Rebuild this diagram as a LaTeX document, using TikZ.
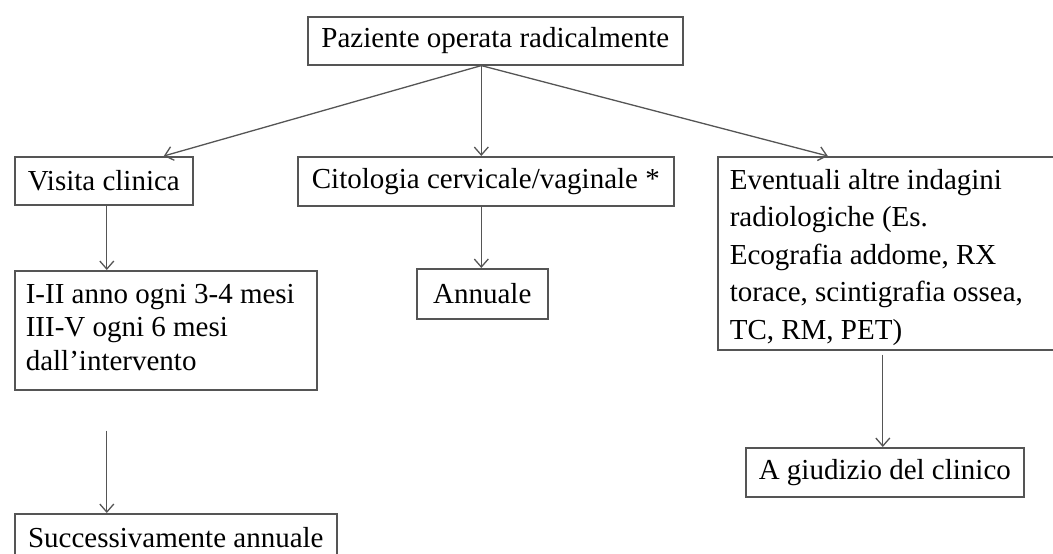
\documentclass[tikz,border=0pt]{standalone}
\usepackage{fontspec}
\setmainfont{Liberation Serif}
\usetikzlibrary{positioning,arrows.meta,calc}
\definecolor{linegray}{RGB}{85,85,85}

\begin{document}
\begin{tikzpicture}[x=1pt,y=-1pt,
    box/.style={draw=linegray,line width=1.6pt,rectangle,anchor=north west,inner xsep=12pt,inner ysep=0pt,align=flush left,font=\fontsize{29}{37.5}\selectfont},
    arr/.style={draw=linegray,line width=1.3pt,-{Straight Barb[length=8pt,width=14pt]}}]
    \useasboundingbox (0,0) rectangle (1053,554);
    \clip (0,0) rectangle (1053,554);

    % Root
    \node[box,minimum width=375pt,minimum height=48pt] (root) at (307,16) {Paziente operata radicalmente};

    % Second row
    \node[box,minimum width=178pt,minimum height=48pt] (visita) at (14,156) {Visita clinica};
    \node[box,minimum width=376pt,minimum height=49pt] (cito) at (297,156) {Citologia cervicale/vaginale *};
    \node[box,minimum width=340pt,minimum height=193pt,text width=316pt] (event) at (717,156) {%
        \rule{0pt}{28pt}Eventuali altre indagini\\
        radiologiche (Es.\\
        Ecografia addome, RX\\
        torace, scintigrafia ossea,\\
        TC, RM, PET)};

    % Third row
    \node[box,minimum width=302pt,minimum height=119pt,inner xsep=11pt,text width=280pt,
          font=\fontsize{29}{33.5}\selectfont] (sched) at (14,270) {%
        I-II anno ogni 3-4 mesi\\
        III-V ogni 6 mesi\\
        dall'intervento\rule[-6pt]{0pt}{6pt}};
    \node[box,minimum width=131pt,minimum height=50pt] (annuale) at (416,268) {Annuale};
    \node[box,minimum width=278pt,minimum height=49pt] (giudizio) at (745,447) {A giudizio del clinico};

    % Bottom
    \node[box,minimum width=322pt,minimum height=48pt] (succ) at (14,513) {Successivamente annuale};

    % Connectors
    \coordinate (fork) at ([xshift=-14pt]root.south);
    \draw[arr] (fork) -- ([xshift=60pt]visita.north);
    \draw[arr] (fork) -- (fork |- cito.north);
    \draw[arr] (fork) -- ([xshift=-60pt]event.north);
    \draw[arr] ([xshift=3pt]visita.south) -- ([xshift=3pt]visita.south |- sched.north);
    \draw[arr] (cito.south -| fork) -- (annuale.north -| fork);
    \coordinate (gap) at ([xshift=3pt,yshift=-40pt]visita.south |- sched.south);
    \draw[arr] (gap) -- (gap |- succ.north);
    \draw[arr] ([xshift=-2pt,yshift=-4pt]giudizio.north |- event.south) -- ([xshift=-2pt]giudizio.north);
\end{tikzpicture}
\end{document}
